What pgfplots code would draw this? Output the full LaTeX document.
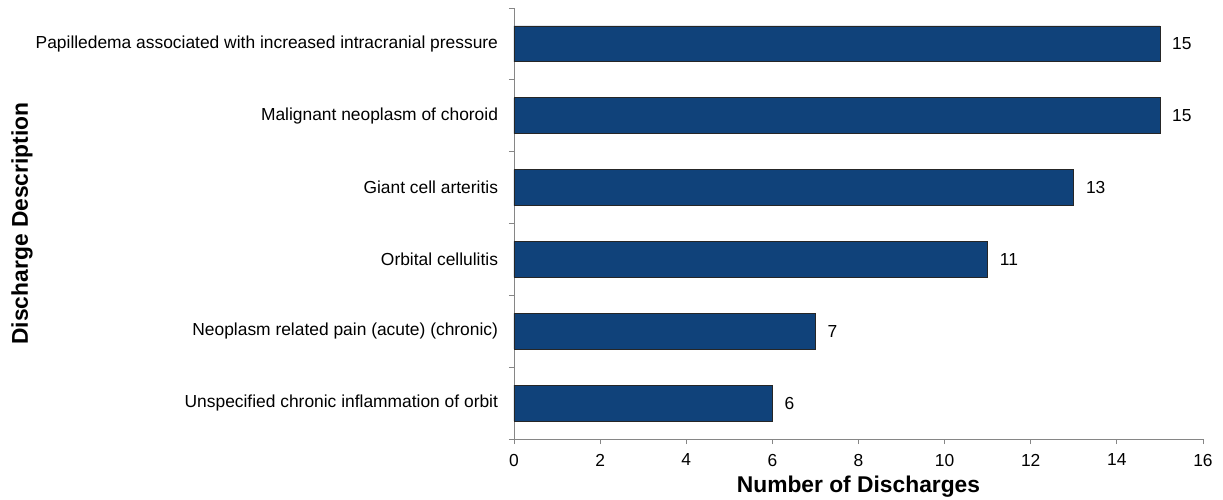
\documentclass[border=0pt]{standalone}
\usepackage{pgfplots}
\pgfplotsset{compat=1.18}
\usepackage{fontspec}
\setmainfont{Liberation Sans}
\definecolor{barblue}{RGB}{16,66,122}
\definecolor{axgray}{RGB}{134,134,134}
\newcommand\lblfont{\fontsize{17.4bp}{20bp}\selectfont}
\newcommand\axfont{\bfseries\fontsize{22.8bp}{26bp}\selectfont}
\begin{document}
\lblfont
\begin{tikzpicture}
\useasboundingbox (-514bp,-61bp) rectangle (709bp,439bp);
\begin{axis}[
  at={(0,0)}, anchor=south west,
  scale only axis, width=689bp, height=431bp,
  xbar, bar width=0.5,
  xmin=0, xmax=16, xtick={0,2,...,16},
  ymin=-0.5, ymax=5.5,
  ytick={0,...,5},
  yticklabels={Unspecified chronic inflammation of orbit,Neoplasm related pain (acute) (chronic),Orbital cellulitis,Giant cell arteritis,Malignant neoplasm of choroid,Papilledema associated with increased intracranial pressure},
  minor ytick={-0.5,0.5,...,5.5},
  major tick length=0pt, minor tick length=5bp,
  extra x ticks={0,2,...,16}, extra x tick labels={},
  extra x tick style={major tick length=5bp},
  tick align=outside,
  axis x line*=bottom, axis y line*=left,
  axis line style={axgray, line width=0.8pt, -},
  every tick/.style={axgray, line width=0.8pt},
  minor tick style={axgray, line width=0.8pt},
  yticklabel style={font=\lblfont, xshift=-10bp},
  xticklabel style={font=\lblfont, yshift=-9bp},
  /pgf/number format/assume math mode=true,
  every axis x label/.style={at={(axis description cs:0.5,0)}, yshift=-48bp, anchor=center, font=\axfont},
  every axis y label/.style={at={(axis description cs:0,0.5)}, xshift=-492bp, rotate=90, anchor=center, font=\axfont},
  xlabel={Number of Discharges},
  ylabel={Discharge Description},
  nodes near coords,
  every node near coord/.append style={font=\lblfont, anchor=west, xshift=6bp, black},
  clip=false,
]
\addplot[fill=barblue, draw=black!85, line width=0.8pt] coordinates {(6,0) (7,1) (11,2) (13,3) (15,4) (15,5)};
\end{axis}
\end{tikzpicture}
\end{document}
